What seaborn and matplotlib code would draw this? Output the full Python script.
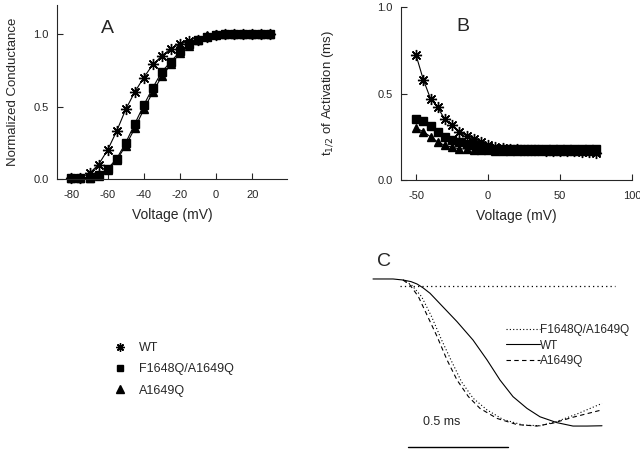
import numpy as np
import pandas as pd
import matplotlib
matplotlib.use("Agg")
import matplotlib.pyplot as plt
from matplotlib.lines import Line2D
import seaborn as sns

sns.set_style("ticks")
plt.rcParams["font.family"] = ["Liberation Sans", "DejaVu Sans"]
plt.rcParams["xtick.direction"] = "in"
plt.rcParams["ytick.direction"] = "in"
plt.rcParams["axes.unicode_minus"] = False

# ------------------------
# PANEL A: conductance-voltage
# ------------------------
volt_a = list(range(-80, 35, 5))
g_wt = [0.01, 0.01, 0.04, 0.10, 0.20, 0.33, 0.48, 0.60, 0.70, 0.79, 0.85, 0.90,
        0.93, 0.95, 0.96, 0.98, 0.99, 1.0, 1.0, 1.0, 1.0, 1.0, 1.0]
g_ff = [0.01, 0.01, 0.01, 0.03, 0.07, 0.14, 0.25, 0.38, 0.51, 0.63, 0.74, 0.81,
        0.88, 0.93, 0.96, 0.98, 0.99, 1.0, 1.0, 1.0, 1.0, 1.0, 1.0]
g_a = [0.01, 0.01, 0.01, 0.02, 0.06, 0.13, 0.23, 0.35, 0.48, 0.60, 0.71, 0.79,
       0.87, 0.92, 0.96, 0.99, 1.0, 1.0, 1.0, 1.0, 1.0, 1.0, 1.0]

# ------------------------
# PANEL B: t1/2 of activation
# ------------------------
volt_b = list(range(-50, 80, 5))
t_wt = [0.72, 0.58, 0.47, 0.42, 0.35, 0.32, 0.28, 0.255, 0.235, 0.22, 0.20, 0.19,
        0.185, 0.18, 0.18, 0.175, 0.175, 0.175, 0.17, 0.17, 0.17, 0.165, 0.165,
        0.16, 0.16, 0.155]
t_ff = [0.35, 0.34, 0.31, 0.28, 0.25, 0.23, 0.22, 0.21, 0.20, 0.19, 0.185, 0.18,
        0.18, 0.18, 0.18, 0.18, 0.18, 0.18, 0.18, 0.18, 0.18, 0.18, 0.18,
        0.18, 0.18, 0.18]
t_a = [0.30, 0.28, 0.25, 0.22, 0.20, 0.19, 0.18, 0.18, 0.175, 0.175, 0.175, 0.17,
       0.17, 0.17, 0.17, 0.17, 0.17, 0.17, 0.17, 0.17, 0.17, 0.17, 0.165,
       0.165, 0.165, 0.165]

# ------------------------
# PANEL C: normalized current traces (time in ms)
# ------------------------
time_wt = [0, 0.10, 0.15, 0.19, 0.22, 0.25, 0.285, 0.35, 0.42, 0.50, 0.57,
           0.635, 0.70, 0.77, 0.835, 0.92, 1.0, 1.07, 1.145]
cur_wt = [0, 0, -0.007, -0.018, -0.034, -0.06, -0.097, -0.19, -0.29, -0.415,
          -0.55, -0.687, -0.80, -0.88, -0.937, -0.977, -1.0, -1.0, -0.998]
time_aq = [0.15, 0.185, 0.227, 0.27, 0.32, 0.37, 0.42, 0.477, 0.535, 0.62,
           0.72, 0.82, 0.90, 1.0, 1.145]
cur_aq = [-0.007, -0.041, -0.12, -0.245, -0.39, -0.55, -0.687, -0.80, -0.88,
          -0.948, -0.99, -1.0, -0.98, -0.94, -0.89]
time_ff = [0.15, 0.193, 0.243, 0.293, 0.343, 0.393, 0.443, 0.50, 0.57, 0.65,
           0.75, 0.835, 0.92, 1.02, 1.145]
cur_ff = [-0.007, -0.041, -0.12, -0.256, -0.415, -0.56, -0.70, -0.81, -0.89,
          -0.955, -0.993, -0.998, -0.968, -0.918, -0.846]
time_flat = [0.135, 1.21]
cur_flat = [-0.045, -0.045]

labels = ["WT", "F1648Q/A1649Q", "A1649Q"]
star = (8, 2, 0)
markers = [star, "s", "^"]

fig = plt.figure(figsize=(6.4, 4.49), dpi=100)

# ---- A ----
axA = fig.add_axes([0.089, 0.6013, 0.359, 0.3875])
for y, m, ms in zip([g_a, g_ff, g_wt], ["^", "s", star], [6, 6, 8]):
    sns.lineplot(x=volt_a, y=y, ax=axA, color="k", lw=0.8, marker=m,
                 markersize=ms, markeredgewidth=1.0, markeredgecolor="k",
                 clip_on=False)
axA.set_xlim(-88, 39)
axA.set_ylim(0, 1.2)
axA.set_xticks([-80, -60, -40, -20, 0, 20])
axA.set_yticks([0.0, 0.5, 1.0])
axA.set_yticklabels(["0.0", "0.5", "1.0"])
axA.set_xlabel("Voltage (mV)", fontsize=10, labelpad=6)
axA.set_ylabel("Normalized Conductance", fontsize=9.5, labelpad=10)
axA.tick_params(labelsize=8, length=4, width=0.8)
axA.tick_params(axis="x", pad=8)
axA.tick_params(axis="y", pad=6)
axA.text(0.19, 0.84, "A", transform=axA.transAxes, fontsize=14)
sns.despine(ax=axA)

# ---- B ----
axB = fig.add_axes([0.6266, 0.599, 0.361, 0.3854])
for y, m, ms in zip([t_a, t_ff, t_wt], ["^", "s", star], [6, 6, 8]):
    sns.lineplot(x=volt_b, y=y, ax=axB, color="k", lw=0.8, marker=m,
                 markersize=ms, markeredgewidth=1.0, markeredgecolor="k",
                 clip_on=False)
axB.set_xlim(-60.5, 100)
axB.set_ylim(0, 1.0)
axB.set_xticks([-50, 0, 50, 100])
axB.set_yticks([0.0, 0.5, 1.0])
axB.set_yticklabels(["0.0", "0.5", "1.0"])
axB.set_xlabel("Voltage (mV)", fontsize=10, labelpad=6)
axB.set_ylabel(r"t$_{1/2}$ of Activation (ms)", fontsize=9.5, labelpad=30)
axB.tick_params(labelsize=8, length=4, width=0.8)
axB.tick_params(axis="x", pad=8)
axB.tick_params(axis="y", pad=6)
axB.text(0.24, 0.86, "B", transform=axB.transAxes, fontsize=14)
sns.despine(ax=axB)

# ---- C ----
axC = fig.add_axes([360 / 640, 0, 270 / 640, 209 / 449])
sns.lineplot(x=time_flat, y=cur_flat, ax=axC, color="k", lw=0.9,
             linestyle=(0, (1, 2.5)))
hff = axC.plot(time_ff, cur_ff, color="k", lw=0.8, linestyle=(0, (1, 2)),
               label="F1648Q/A1649Q")[0]
hwt = axC.plot(time_wt, cur_wt, color="k", lw=0.8, label="WT")[0]
haq = axC.plot(time_aq, cur_aq, color="k", lw=0.8, linestyle=(0, (4, 3)),
               label="A1649Q")[0]
axC.plot([0.175, 0.675], [-1.143, -1.143], color="k", lw=1.0)
axC.text(0.25, -0.973, "0.5 ms", fontsize=9, va="center")
axC.text(0.02, 0.12, "C", fontsize=14, va="center")
axC.set_xlim(-0.065, 1.285)
axC.set_ylim(-1.156, 0.265)
axC.axis("off")
axC.legend(handles=[hff, hwt, haq], frameon=False, fontsize=8.5,
           handlelength=2.9, handletextpad=0.0, labelspacing=0.3,
           loc="upper left", bbox_to_anchor=(506 / 640, 1 - 324 / 449),
           bbox_transform=fig.transFigure, borderaxespad=0, borderpad=0)

# ---- marker legend ----
handles = [Line2D([], [], color="k", marker=m, linestyle="none",
                  markersize=ms, markeredgewidth=1.0)
           for m, ms in zip(markers, [6, 5, 6])]
fig.legend(handles=handles, labels=labels, frameon=False, fontsize=9,
           handlelength=1.0, handletextpad=1.0, labelspacing=0.75,
           loc="upper left", bbox_to_anchor=(114 / 640, 1 - 342 / 449),
           borderaxespad=0, borderpad=0)

fig.savefig("out.png", dpi=100)
